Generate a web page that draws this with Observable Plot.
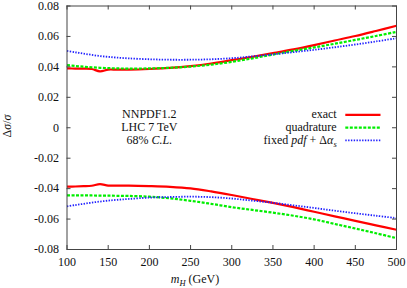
<!DOCTYPE html>
<html><head><meta charset="utf-8">
<script src="https://cdn.jsdelivr.net/npm/d3@7"></script>
<script src="https://cdn.jsdelivr.net/npm/@observablehq/plot@0.6"></script>
<style>body{margin:0;background:#fff} #chart{width:407px;height:288px} svg text{font-family:"Liberation Serif","DejaVu Serif",serif}</style>
</head><body><div id="chart"></div>
<script>
// Higgs mass grid (GeV)
const mH = [100,110,120,130,140,150,160,175,200,225,250,275,300,325,350,375,400,425,450,475,500];
// exact
const exactUp = [0.0390,0.0389,0.0388,0.0386,0.0371,0.0382,0.0382,0.0382,0.0386,0.0393,0.0405,0.0422,0.0444,0.0466,0.0490,0.0515,0.0543,0.0573,0.0603,0.0636,0.0670];
const exactDn = [-0.0387,-0.0386,-0.0384,-0.0381,-0.0371,-0.0380,-0.0380,-0.0380,-0.0383,-0.0388,-0.0398,-0.0418,-0.0442,-0.0468,-0.0494,-0.0522,-0.0552,-0.0582,-0.0612,-0.0641,-0.0670];
// quadrature
const quadUp = [0.0412,0.0406,0.0401,0.0397,0.0394,0.0392,0.0390,0.0389,0.0390,0.0394,0.0402,0.0415,0.0433,0.0456,0.0481,0.0505,0.0528,0.0552,0.0577,0.0603,0.0630];
const quadDn = [-0.0445,-0.0445,-0.0445,-0.0445,-0.0446,-0.0446,-0.0447,-0.0448,-0.0453,-0.0464,-0.0480,-0.0500,-0.0522,-0.0540,-0.0558,-0.0578,-0.0602,-0.0632,-0.0662,-0.0693,-0.0725];
// fixed pdf + Δαs
const fixedUp = [0.0505,0.0496,0.0487,0.0479,0.0471,0.0466,0.0461,0.0456,0.0450,0.0447,0.0447,0.0450,0.0457,0.0469,0.0482,0.0497,0.0512,0.0529,0.0547,0.0567,0.0588];
const fixedDn = [-0.0517,-0.0508,-0.0500,-0.0492,-0.0485,-0.0479,-0.0474,-0.0468,-0.0459,-0.0455,-0.0453,-0.0456,-0.0465,-0.0479,-0.0493,-0.0510,-0.0527,-0.0545,-0.0562,-0.0578,-0.0594];

const xTicks = [100,150,200,250,300,350,400,450,500];
const xTickLabels = ["100","150","200","250","300","350","400","450","500"];
const yTicks = [-0.08,-0.06,-0.04,-0.02,0,0.02,0.04,0.06,0.08];
const yTickLabels = ["-0.08","-0.06","-0.04","-0.02","0","0.02","0.04","0.06","0.08"];

const W = 407, H = 288, mL = 66.5, mR = 11, mT = 5.5, mB = 39;
const iW = W - mL - mR, iH = H - mT - mB;
const frameColor = "#444";
const FONT = "Liberation Serif, DejaVu Serif, serif";
const styles = {
  exact: {stroke: "#ff0000", strokeWidth: 2.2, dash: null},
  quad: {stroke: "#00ee00", strokeWidth: 2.2, dash: "3,1.5"},
  fixed: {stroke: "#2020ff", strokeWidth: 1.8, dash: "1.4,1.4"}
};
const line = (vals, key) => Plot.line(vals, {x: (d, i) => mH[i], y: d => d, curve: "catmull-rom",
  stroke: styles[key].stroke, strokeWidth: styles[key].strokeWidth,
  strokeDasharray: styles[key].dash || undefined, strokeLinecap: "butt", strokeLinejoin: "round",
  className: "ser-" + key});

const chart = Plot.plot({
  width: W, height: H, marginLeft: mL, marginRight: mR, marginTop: mT, marginBottom: mB,
  style: {fontSize: "12px", color: "#111", background: "#fff"},
  x: {domain: [100, 500]},
  y: {domain: [-0.08, 0.08]},
  marks: [
    line(exactUp, "exact"), line(exactDn, "exact"),
    line(quadUp, "quad"), line(quadDn, "quad"),
    line(fixedUp, "fixed"), line(fixedDn, "fixed"),
    Plot.frame({stroke: frameColor}),
    Plot.tickX(xTicks, {x: d => d, insetTop: iH - 4, stroke: frameColor}),
    Plot.tickX(xTicks, {x: d => d, insetBottom: iH - 4, stroke: frameColor}),
    Plot.tickY(yTicks, {y: d => d, insetRight: iW - 4, stroke: frameColor}),
    Plot.tickY(yTicks, {y: d => d, insetLeft: iW - 4, stroke: frameColor}),
    Plot.axisX({ticks: xTicks, tickSize: 0, tickPadding: 8, label: null,
      tickFormat: d => xTickLabels[xTicks.indexOf(d)]}),
    Plot.axisY({ticks: yTicks, tickSize: 0, tickPadding: 8, label: null,
      tickFormat: d => yTickLabels[yTicks.indexOf(d)]})
  ]
});
document.getElementById("chart").appendChild(chart);

const svg = d3.select(chart);
for (const key of ["quad", "fixed"]) {
  svg.selectAll(".ser-" + key + " path").attr("stroke-dasharray", styles[key].dash).attr("stroke-linecap", "butt");
}
svg.selectAll(".ser-exact path").attr("stroke-linecap", "butt");
const g = svg.append("g").attr("fill", "#111").attr("font-size", 12);

// y label
const yl = g.append("text").attr("transform", "translate(11,126) rotate(-90)").attr("text-anchor", "middle");
yl.append("tspan").text("Δ");
yl.append("tspan").attr("font-style", "italic").text("σ");
yl.append("tspan").text("/");
yl.append("tspan").attr("font-style", "italic").text("σ");

// x label
const xl = g.append("text").attr("x", 195).attr("y", 283);
xl.append("tspan").attr("font-style", "italic").text("m");
xl.append("tspan").attr("font-size", 8.5).attr("font-style", "italic").attr("dy", 2.5).text("H");
xl.append("tspan").attr("dy", -2.5).text(" (GeV)");

// left annotation block
g.append("text").attr("x", 149.3).attr("y", 117.5).text("NNPDF1.2");
g.append("text").attr("x", 149.3).attr("y", 131).text("LHC 7 TeV");
const cl = g.append("text").attr("x", 149.3).attr("y", 144.3);
cl.append("tspan").text("68% ");
cl.append("tspan").attr("font-style", "italic").text("C.L.");

// legend
const lx = 336.7;
g.append("text").attr("x", lx).attr("y", 117.5).attr("text-anchor", "end").text("exact");
g.append("text").attr("x", lx).attr("y", 131).attr("text-anchor", "end").text("quadrature");
const fl = g.append("text").attr("x", lx).attr("y", 144.3).attr("text-anchor", "end");
fl.append("tspan").text("fixed ");
fl.append("tspan").attr("font-style", "italic").text("pdf");
fl.append("tspan").text(" + Δ");
fl.append("tspan").attr("font-style", "italic").text("α");
fl.append("tspan").attr("font-style", "italic").attr("font-size", 8.5).attr("dy", 2.5).text("s");

const leg = [[114.8, "exact"], [127.6, "quad"], [140.3, "fixed"]];
for (const [y, key] of leg) {
  const st = styles[key];
  svg.append("line").attr("x1", 345.3).attr("x2", 380.5).attr("y1", y).attr("y2", y)
    .attr("stroke", st.stroke).attr("stroke-width", st.strokeWidth)
    .attr("stroke-dasharray", st.dash);
}
svg.selectAll("text").attr("font-family", FONT).attr("fill", "#111");
svg.attr("font-family", FONT);
</script>
</body></html>
